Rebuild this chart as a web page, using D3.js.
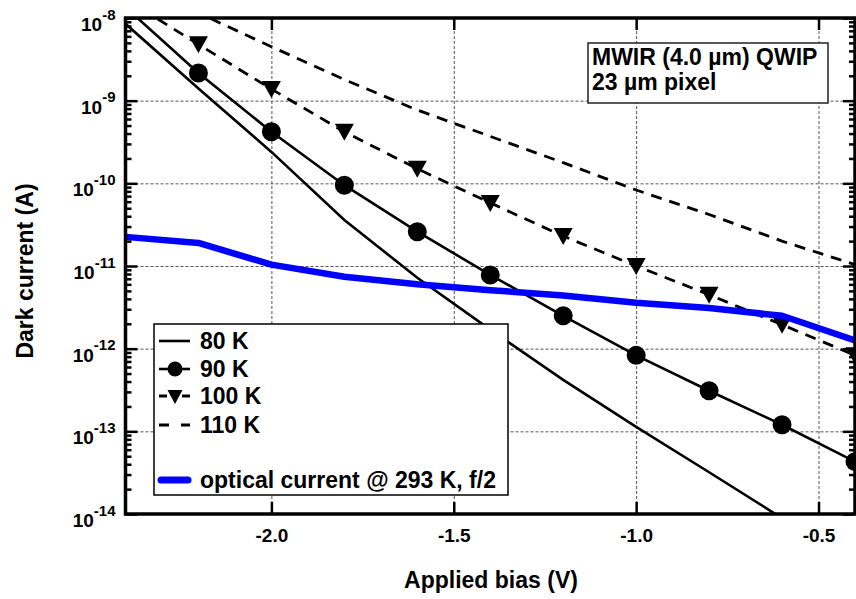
<!DOCTYPE html>
<html>
<head>
<meta charset="utf-8">
<script src="https://cdn.jsdelivr.net/npm/d3@7"></script>
<style>
  body { margin: 0; background: #fff; }
  text { font-family: "Liberation Sans", Arial, sans-serif; font-weight: bold; fill: #000; }
</style>
</head>
<body>
<svg id="chart" width="856" height="599"></svg>
<script>
// Applied bias (V) and dark current (A)
const bias = [-2.4, -2.2, -2.0, -1.8, -1.6, -1.4, -1.2, -1.0, -0.8, -0.6, -0.4];
const dark80 = [8.5e-9, 1.4e-9, 2.4e-10, 3.6e-11, 7.2e-12, 1.7e-12, 4.2e-13, 1.13e-13, 3.2e-14, 8.9e-15, 2.5e-15];
const dark90 = [1.35e-8, 2.16e-9, 4.2e-10, 9.5e-11, 2.6e-11, 7.8e-12, 2.5e-12, 8.3e-13, 3.1e-13, 1.2e-13, 4.3e-14];
const dark100 = [1.7e-8, 4.8e-9, 1.38e-9, 4.2e-10, 1.5e-10, 5.8e-11, 2.3e-11, 1.0e-11, 4.5e-12, 1.95e-12, 8.3e-13];
const dark110 = [3.2e-8, 1.15e-8, 4.5e-9, 1.8e-9, 7.7e-10, 3.7e-10, 1.78e-10, 8.3e-11, 4.2e-11, 2.0e-11, 1.04e-11];
const optical = [2.25e-11, 1.9e-11, 1.04e-11, 7.4e-12, 6.0e-12, 5.1e-12, 4.4e-12, 3.6e-12, 3.1e-12, 2.5e-12, 1.26e-12];

const xTicks = [-2.0, -1.5, -1.0, -0.5];
const decades = [1e-14, 1e-13, 1e-12, 1e-11, 1e-10, 1e-9, 1e-8];
const legendLabels = ["80 K", "90 K", "100 K", "110 K", "optical current @ 293 K, f/2"];
const noteLines = ["MWIR (4.0 \u00b5m) QWIP", "23 \u00b5m pixel"];

// plot frame
const pLeft = 125.5, pRight = 855, pTop = 18, pBottom = 514;

const svg = d3.select("#chart");

const x = d3.scaleLinear().domain([-2.4, -0.4]).range([pLeft, pRight]);
const y = d3.scaleLog().domain([1e-14, 1e-8]).range([pBottom, pTop]);

const minors = [];
decades.slice(0, -1).forEach(d => {
  for (let m = 2; m <= 9; m++) minors.push(d * m);
});

svg.append("defs").append("clipPath").attr("id", "plotClip")
  .append("rect")
    .attr("x", pLeft).attr("y", pTop)
    .attr("width", pRight - pLeft).attr("height", pBottom - pTop);

// Grid lines (dotted)
svg.append("g")
    .attr("transform", "translate(0," + pBottom + ")")
    .call(d3.axisBottom(x).tickValues(xTicks).tickSize(-(pBottom - pTop)).tickFormat(""))
    .call(g => g.select(".domain").remove())
    .selectAll("line")
    .attr("stroke", "#555").attr("stroke-width", 1).attr("stroke-dasharray", "3,2");

svg.append("g")
    .attr("transform", "translate(" + pLeft + ",0)")
    .call(d3.axisLeft(y).tickValues(decades.slice(1, -1)).tickSize(-(pRight - pLeft)).tickFormat(""))
    .call(g => g.select(".domain").remove())
    .selectAll("line")
    .attr("stroke", "#555").attr("stroke-width", 1).attr("stroke-dasharray", "3,2");

// Curves
const line = d3.line()
    .x(d => x(d[0]))
    .y(d => y(d[1]));

const plot = svg.append("g").attr("clip-path", "url(#plotClip)");

const series = [
  { values: dark110, width: 2.8, dash: "11,8" },
  { values: dark100, width: 2.8, dash: "11,8" },
  { values: dark80, width: 2.6, dash: null },
  { values: dark90, width: 2.6, dash: null }
];

series.forEach(s => {
  plot.append("path")
      .datum(bias.map((b, i) => [b, s.values[i]]))
      .attr("fill", "none")
      .attr("stroke", "#000")
      .attr("stroke-width", s.width)
      .attr("stroke-dasharray", s.dash)
      .attr("d", line);
});

const tri = "M-9.5,-8L9.5,-8L0,9Z";

plot.selectAll(".tri100")
  .data(bias.map((b, i) => [b, dark100[i]]))
  .enter().append("path")
    .attr("class", "tri100")
    .attr("d", tri)
    .attr("transform", d => "translate(" + x(d[0]) + "," + y(d[1]) + ")")
    .attr("fill", "#000");

plot.selectAll(".dot90")
  .data(bias.map((b, i) => [b, dark90[i]]))
  .enter().append("circle")
    .attr("class", "dot90")
    .attr("cx", d => x(d[0]))
    .attr("cy", d => y(d[1]))
    .attr("r", 9.5)
    .attr("fill", "#000");

plot.append("path")
    .datum(bias.map((b, i) => [b, optical[i]]))
    .attr("fill", "none")
    .attr("stroke", "#0000ff")
    .attr("stroke-width", 6.5)
    .attr("stroke-linejoin", "round")
    .attr("d", line);

// Legend
const legend = svg.append("g");
legend.append("rect")
    .attr("x", 154).attr("y", 324).attr("width", 354).attr("height", 171)
    .attr("fill", "#fff").attr("stroke", "#000").attr("stroke-width", 1.5);

const legendY = [341, 369, 396, 425, 480];
const symX0 = 159, symX1 = 190, symXc = 175;

legendLabels.forEach((lab, i) => {
  legend.append("text")
      .attr("x", 200).attr("y", legendY[i] + 8)
      .style("font-size", "23px")
      .text(lab);
});

legend.append("line").attr("x1", symX0).attr("x2", symX1)
    .attr("y1", legendY[0]).attr("y2", legendY[0])
    .attr("stroke", "#000").attr("stroke-width", 2.6);
legend.append("line").attr("x1", symX0).attr("x2", symX1)
    .attr("y1", legendY[1]).attr("y2", legendY[1])
    .attr("stroke", "#000").attr("stroke-width", 2.6);
legend.append("circle").attr("cx", symXc).attr("cy", legendY[1]).attr("r", 7.5).attr("fill", "#000");
legend.append("line").attr("x1", symX0).attr("x2", symX1)
    .attr("y1", legendY[2]).attr("y2", legendY[2])
    .attr("stroke", "#000").attr("stroke-width", 2.8).attr("stroke-dasharray", "8,15");
legend.append("path").attr("d", "M-7.5,-6L7.5,-6L0,8Z")
    .attr("transform", "translate(" + symXc + "," + legendY[2] + ")").attr("fill", "#000");
legend.append("line").attr("x1", symX0).attr("x2", symX1)
    .attr("y1", legendY[3]).attr("y2", legendY[3])
    .attr("stroke", "#000").attr("stroke-width", 2.8).attr("stroke-dasharray", "10,12");
legend.append("line").attr("x1", symX0 + 2).attr("x2", symX1 - 2)
    .attr("y1", legendY[4]).attr("y2", legendY[4])
    .attr("stroke", "#0000ff").attr("stroke-width", 7).attr("stroke-linecap", "round");

// Annotation box
const note = svg.append("g");
note.append("rect")
    .attr("x", 588).attr("y", 43).attr("width", 240).attr("height", 60)
    .attr("fill", "#fff").attr("stroke", "#222").attr("stroke-width", 1.5);
noteLines.forEach((t, i) => {
  note.append("text")
      .attr("x", 592).attr("y", 65 + i * 25)
      .style("font-size", "23px")
      .text(t);
});

// Axes: inward major ticks on all four sides, minor log ticks on left and right
const styleTicks = g => {
  g.select(".domain").remove();
  g.selectAll("line").attr("stroke", "#000").attr("stroke-width", 2.5);
};

svg.append("g")
    .attr("transform", "translate(0," + pBottom + ")")
    .call(d3.axisBottom(x).tickValues(xTicks).tickSize(-12).tickPadding(15).tickFormat(d => d.toFixed(1)))
    .call(styleTicks)
    .call(g => g.attr("font-family", null).attr("font-size", null))
    .selectAll("text")
    .style("font-size", "19px");

svg.append("g")
    .attr("transform", "translate(0," + pTop + ")")
    .call(d3.axisTop(x).tickValues(xTicks).tickSize(-12).tickFormat(""))
    .call(styleTicks);

const yAxis = svg.append("g")
    .attr("transform", "translate(" + pLeft + ",0)")
    .call(d3.axisLeft(y).tickValues(decades).tickSize(-12).tickPadding(10))
    .call(styleTicks)
    .call(g => g.attr("font-family", null).attr("font-size", null));

yAxis.selectAll("text")
    .attr("dy", 12.5)
    .style("font-size", "19px")
    .each(function(d) {
      const t = d3.select(this);
      t.text("10");
      t.append("tspan")
          .attr("dy", -11.5)
          .style("font-size", "15px")
          .text(Math.round(Math.log10(d)));
    });

svg.append("g")
    .attr("transform", "translate(" + pLeft + ",0)")
    .call(d3.axisLeft(y).tickValues(minors).tickSize(-6).tickFormat(""))
    .call(styleTicks);

svg.append("g")
    .attr("transform", "translate(" + pRight + ",0)")
    .call(d3.axisRight(y).tickValues(decades).tickSize(-12).tickFormat(""))
    .call(styleTicks);

svg.append("g")
    .attr("transform", "translate(" + pRight + ",0)")
    .call(d3.axisRight(y).tickValues(minors).tickSize(-6).tickFormat(""))
    .call(styleTicks);

// Frame
svg.append("rect")
    .attr("x", pLeft).attr("y", pTop)
    .attr("width", pRight - pLeft).attr("height", pBottom - pTop)
    .attr("fill", "none").attr("stroke", "#000").attr("stroke-width", 3.5);

// Axis titles
svg.append("text")
    .attr("x", 491).attr("y", 588)
    .attr("text-anchor", "middle")
    .style("font-size", "23px")
    .text("Applied bias (V)");

svg.append("text")
    .attr("transform", "translate(33,271) rotate(-90)")
    .attr("text-anchor", "middle")
    .style("font-size", "23px")
    .text("Dark current (A)");
</script>
</body>
</html>
